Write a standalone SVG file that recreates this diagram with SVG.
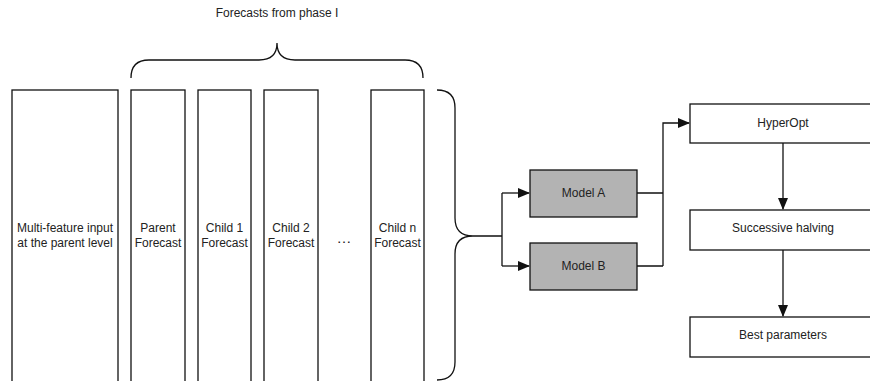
<svg xmlns="http://www.w3.org/2000/svg" width="870" height="381" viewBox="0 0 870 381">
<style>
.box{fill:#fff;stroke:#111;stroke-width:1.3}
.grey{fill:#b3b3b3;stroke:#111;stroke-width:1.3}
.ln{fill:none;stroke:#111;stroke-width:1.3}
text{font-family:"Liberation Sans",Arial,sans-serif;font-size:12px;fill:#222;text-anchor:middle}
</style>
<defs>
<marker id="ah" markerWidth="12" markerHeight="10" refX="11" refY="5" orient="auto" markerUnits="userSpaceOnUse">
<path d="M0,0 L12,5 L0,10 Z" fill="#111"/>
</marker>
</defs>
<rect width="870" height="381" fill="#fff"/>
<g id="title"><text x="277" y="17">Forecasts from phase I</text></g>
<g id="brace-top"><path class="ln" d="M131,78 Q131,60 149,60 L259,60 Q277,60 277,43 Q277,60 295,60 L405,60 Q423,60 423,78"/></g>
<g id="input"><rect class="box" x="12" y="90" width="106" height="300"/><text x="65" y="232">Multi-feature input</text><text x="65" y="247">at the parent level</text></g>
<g id="parent"><rect class="box" x="131" y="90" width="54" height="300"/><text x="158" y="232">Parent</text><text x="158" y="247">Forecast</text></g>
<g id="child1"><rect class="box" x="198" y="90" width="53" height="300"/><text x="224.5" y="232">Child 1</text><text x="224.5" y="247">Forecast</text></g>
<g id="child2"><rect class="box" x="264" y="90" width="54" height="300"/><text x="291" y="232">Child 2</text><text x="291" y="247">Forecast</text></g>
<g id="dots"><text x="344" y="243" style="font-size:15px">…</text></g>
<g id="childn"><rect class="box" x="371" y="90" width="53" height="300"/><text x="397.5" y="232">Child n</text><text x="397.5" y="247">Forecast</text></g>
<g id="brace-right"><path class="ln" d="M437,90 Q455,90 455,108 L455,218 Q455,236 473,236 Q455,236 455,254 L455,362 Q455,380 437,380"/></g>
<g id="modelA"><rect class="grey" x="530" y="170" width="107" height="47"/><text x="583.5" y="197">Model A</text></g>
<g id="modelB"><rect class="grey" x="530" y="243" width="107" height="47"/><text x="583.5" y="270">Model B</text></g>
<g id="hyperopt"><rect class="box" x="690" y="104" width="186" height="39"/><text x="783" y="127">HyperOpt</text></g>
<g id="halving"><rect class="box" x="690" y="210" width="186" height="40"/><text x="783" y="232">Successive halving</text></g>
<g id="best"><rect class="box" x="690" y="317" width="186" height="40"/><text x="783" y="339">Best parameters</text></g>
<g id="connectors">
<path class="ln" d="M473,236 L502,236 M502,193 L502,266"/>
<path class="ln" d="M502,193 L529,193" marker-end="url(#ah)"/>
<path class="ln" d="M502,266 L529,266" marker-end="url(#ah)"/>
<path class="ln" d="M637,193 L663,193 M637,266 L663,266"/>
<path class="ln" d="M663,266 L663,123 L689,123" marker-end="url(#ah)"/>
<path class="ln" d="M783,143 L783,209" marker-end="url(#ah)"/>
<path class="ln" d="M783,250 L783,316" marker-end="url(#ah)"/>
</g>
</svg>
